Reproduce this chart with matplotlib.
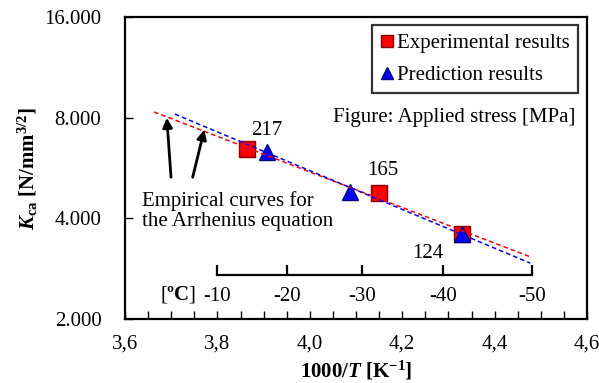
import matplotlib
matplotlib.use("Agg")
import matplotlib.pyplot as plt

plt.rcParams['font.family'] = ['Liberation Serif', 'DejaVu Serif']
plt.rcParams['mathtext.fontset'] = 'custom'
plt.rcParams['mathtext.rm'] = 'Liberation Serif'
plt.rcParams['mathtext.it'] = 'Liberation Serif:italic'
plt.rcParams['mathtext.bf'] = 'Liberation Serif:bold'
plt.rcParams['mathtext.bfit'] = 'Liberation Serif:italic:bold'
plt.rcParams['axes.unicode_minus'] = False

# datos
exp_x = [3.864, 4.150, 4.329]
exp_y = [6.44, 4.75, 3.59]
pred_x = [3.907, 4.087, 4.329]
pred_y = [6.31, 4.80, 3.59]
stress = ['217', '165', '124']
stress_xy = [(3.907, 7.3), (4.158, 5.58), (4.256, 3.15)]

# curvas empiricas (Arrhenius), extremos
fit_exp_x = [3.663, 4.477]
fit_exp_y = [8.32, 3.07]
fit_pred_x = [3.708, 4.477]
fit_pred_y = [8.20, 2.94]

celsius = [-10, -20, -30, -40, -50]
celsius_lbl = ['-10', '-20', '-30', '-40', '-50']

yticks = [2, 4, 8, 16]
ylbls = ['2.000', '4.000', '8.000', '16.000']
xticks = [3.6, 3.8, 4.0, 4.2, 4.4, 4.6]
xlbls = ['3,6', '3,8', '4,0', '4,2', '4,4', '4,6']

FS = 15

fig = plt.figure(figsize=(5.99, 3.83), dpi=100)
ax = fig.add_subplot(111)
fig.subplots_adjust(left=0.2087, right=0.98, top=0.9556, bottom=0.167)

ax.plot(exp_x, exp_y, 's', ms=11, color='#ff0000', mec='#8b0000', mew=1,
        label='Experimental results', zorder=2)
ax.plot(pred_x, pred_y, '^', ms=12, color='#0000ff', mec='#000080', mew=1,
        label='Prediction results', zorder=2)
ax.plot(fit_exp_x, fit_exp_y, '--', color='#ff0000', lw=1.1, dashes=(3, 2), zorder=3)
ax.plot(fit_pred_x, fit_pred_y, '--', color='#0000ff', lw=1.1, dashes=(3, 2), zorder=3)

for s, (tx, ty) in zip(stress, stress_xy):
    ax.text(tx, ty, s, fontsize=FS, ha='center', va='center')

ax.set_yscale('log', base=2)
ax.set_ylim(2, 16)
ax.set_xlim(3.6, 4.6)
ax.set_yticks(yticks)
ax.set_yticklabels(ylbls)
ax.minorticks_off()
ax.set_xticks(xticks)
ax.set_xticklabels(xlbls)
ax.set_xticks([3.6 + 0.05 * i for i in range(21)], minor=True)
ax.tick_params(axis='both', which='both', direction='in', labelsize=FS, width=1)
ax.tick_params(axis='x', which='both', length=6, pad=11)
ax.tick_params(axis='y', which='major', length=6, pad=17)
ax.tick_params(axis='y', which='minor', length=0)
for sp in ax.spines.values():
    sp.set_linewidth(1.6)

ax.set_xlabel(r'$\mathbf{1000/}\mathbfit{T}\ \mathbf{[K}^{\mathbf{-1}}\mathbf{]}$', fontsize=FS, labelpad=4)
ax.set_ylabel(r'$\mathbfit{K}_{\mathbf{ca}}\ \mathbf{[N/mm}^{\mathbf{3/2}}\mathbf{]}$', fontsize=FS, labelpad=3)

# eje interior en grados C
sec = ax.secondary_xaxis(0.146, functions=(lambda x: 1000.0 / x - 273.15,
                                           lambda c: 1000.0 / (c + 273.15)))
sec.set_xticks(celsius)
sec.set_xticklabels(celsius_lbl)
sec.tick_params(direction='in', length=7, width=1.6, labelsize=FS, pad=9)
sec.spines['bottom'].set_bounds(-50, -10)
sec.spines['bottom'].set_linewidth(1.6)
ax.text(3.715, 2.37, r'[$\mathbf{ºC}$]', fontsize=FS, ha='center', va='center')

ax.text(3.637, 4.2, 'Empirical curves for\nthe Arrhenius equation', fontsize=FS,
        ha='left', va='center', linespacing=1.05)
ax.annotate('', xy=(3.690, 8.15), xytext=(3.700, 5.21),
            arrowprops=dict(arrowstyle='-|>', color='black', lw=2, mutation_scale=14))
ax.annotate('', xy=(3.773, 7.5), xytext=(3.745, 5.21),
            arrowprops=dict(arrowstyle='-|>', color='black', lw=2, mutation_scale=14))

ax.text(4.575, 8.0, 'Figure: Applied stress [MPa]', fontsize=FS, ha='right', va='center')

leg = ax.legend(loc='upper right', fontsize=FS, frameon=True, fancybox=False,
                edgecolor='black', handlelength=0.6, handletextpad=0.2,
                markerscale=0.75, borderpad=0.4, labelspacing=0.6,
                borderaxespad=0, bbox_to_anchor=(0.9805, 0.9735))
leg.get_frame().set_linewidth(1.6)

fig.savefig('out.png', dpi=100)
